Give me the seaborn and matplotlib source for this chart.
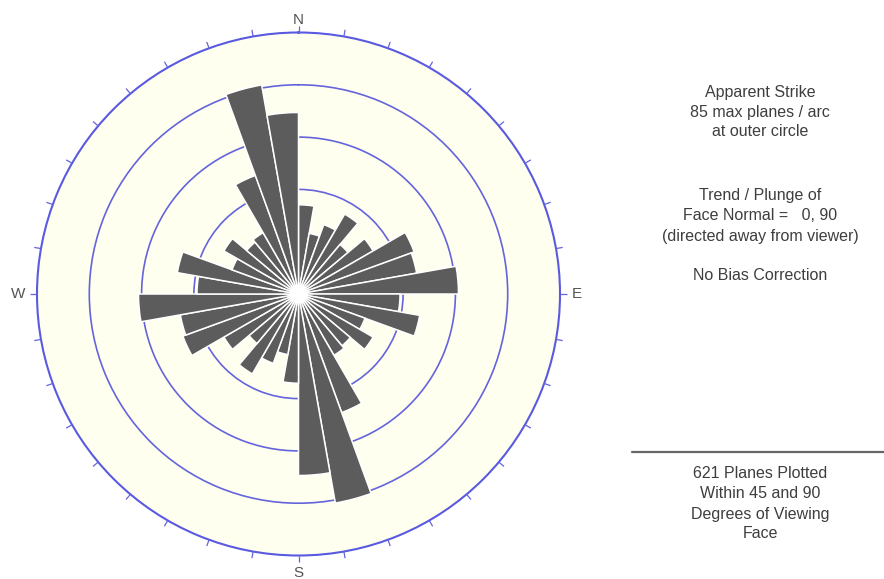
import numpy as np
import pandas as pd
import matplotlib
matplotlib.use("Agg")
import matplotlib.pyplot as plt
from matplotlib.lines import Line2D
import seaborn as sns

# Strike rose: 10-degree bins over 0-180 (bidirectional), plane counts per bin
bin_start_deg = [0, 10, 20, 30, 40, 50, 60, 70, 80,
                 90, 100, 110, 120, 130, 140, 150, 160, 170]
plane_counts = [29, 20, 24, 30, 21, 28, 40, 39, 52,
                33, 40, 23, 28, 22, 23, 41, 69, 59]
max_planes = 85                      # count at the outer circle
ring_levels = [17, 34, 51, 68]       # inner reference circles
tick_step_deg = 10                   # graduation marks round the outer circle

compass_labels = ["N", "E", "S", "W"]
compass_angles = [0, 90, 180, 270]

info_top = ["Apparent Strike", "85 max planes / arc", "at outer circle"]
info_mid = ["Trend / Plunge of", "Face Normal =   0, 90", "(directed away from viewer)"]
info_bias = ["No Bias Correction"]
info_bottom = ["621 Planes Plotted", "Within 45 and 90", "Degrees of Viewing", "Face"]

# Each strike bin is drawn in both directions (theta and theta + 180)
centers = [b + 5 for b in bin_start_deg]
rose = pd.DataFrame({
    "theta": np.deg2rad(centers + [c + 180 for c in centers]),
    "planes": plane_counts + plane_counts,
})

sns.set_theme(style="white")
plt.rcParams["font.family"] = ["Liberation Sans", "DejaVu Sans"]

ring_blue = "#6464dc"
petal_grey = "#5c5c5c"
text_grey = "#3e3e3e"

W, H = 884, 579
fig = plt.figure(figsize=(W / 100, H / 100), dpi=100)
fig.patch.set_facecolor("white")

ax = fig.add_axes([37 / W, 23.5 / H, 523 / W, 523 / H], projection="polar")
ax.set_theta_zero_location("N")
ax.set_theta_direction(-1)
ax.set_facecolor("#fffff0")

sns.barplot(data=rose, x="theta", y="planes", native_scale=True, width=1.0,
            color=petal_grey, saturation=1, edgecolor="white", linewidth=1.1,
            errorbar=None, ax=ax, zorder=3)

ax.set_ylim(0, max_planes)
ax.set_yticks(ring_levels)
ax.set_yticklabels([])
ax.yaxis.grid(True, color=ring_blue, linewidth=1.2)
ax.set_axisbelow(True)

ax.set_xticks([])
ax.xaxis.grid(False)
ax.spines["polar"].set_color("#5a5ae0")
ax.spines["polar"].set_linewidth(1.5)
ax.set_xlabel("")
ax.set_ylabel("")

# graduation marks pointing outward from the outer circle
tick_theta = np.deg2rad(np.arange(0, 360, tick_step_deg))
ax.vlines(tick_theta, max_planes, max_planes + 2.2, colors=ring_blue,
          linewidth=0.9, clip_on=False, zorder=4)

# bright point where the petal separators meet
ax.scatter([0], [0], s=40, color="white", zorder=5, linewidths=0)

label_radius = {"N": 89.2, "E": 90.6, "S": 90.6, "W": 91.0}
for lab, ang in zip(compass_labels, compass_angles):
    ax.text(np.deg2rad(ang), label_radius[lab], lab, ha="center", va="center",
            fontsize=11, color="#555555", clip_on=False)

# Side panel text
def put_lines(lines, y0, step=20):
    for i, s in enumerate(lines):
        fig.text(760 / W, 1 - (y0 + i * step) / H, s, ha="center", va="center",
                 fontsize=11.5, color=text_grey)

put_lines(info_top, 92)
put_lines(info_mid, 196)
put_lines(info_bias, 276)
put_lines(info_bottom, 474)

fig.add_artist(Line2D([632 / W, 1.0], [1 - 452 / H, 1 - 452 / H],
                      transform=fig.transFigure, color="#666666", linewidth=1.6))

fig.savefig("out.png", dpi=100)
